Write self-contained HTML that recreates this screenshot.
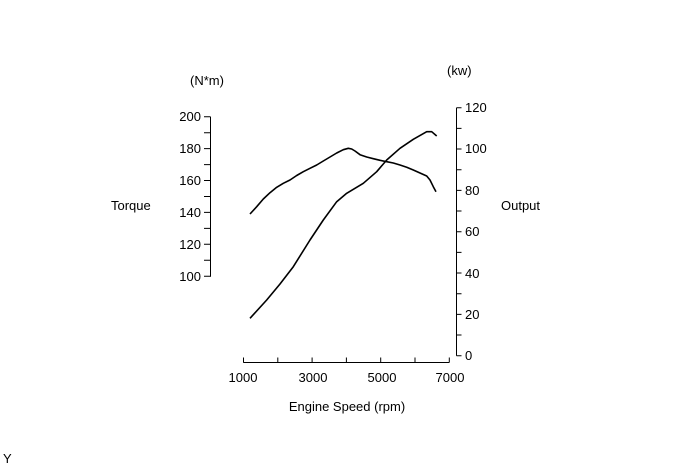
<!DOCTYPE html>
<html><head><style>
body{margin:0;background:#fff}
svg text{font-family:"Liberation Sans",sans-serif;font-size:13px;fill:#000}
</style></head><body>
<svg width="690" height="465" xmlns="http://www.w3.org/2000/svg">
<g stroke="#000" stroke-width="1" fill="none">
<path d="M210.5 116.7V276.7"/>
<path d="M204 116.7h6.5M204 132.7h6.5M204 148.6h6.5M204 164.6h6.5M204 180.5h6.5M204 196.5h6.5M204 212.4h6.5M204 228.4h6.5M204 244.3h6.5M204 260.3h6.5M204 276.2h6.5"/>
<path d="M456.5 107.7V355.7"/>
<path d="M456.5 107.7h5M456.5 128.4h5M456.5 149h5M456.5 169.7h5M456.5 190.4h5M456.5 211h5M456.5 231.7h5M456.5 252.4h5M456.5 273h5M456.5 293.7h5M456.5 314.4h5M456.5 335h5M456.5 355.7h5"/>
<path d="M243.3 362.5H449.3"/>
<path d="M243.5 362.5v-5M277.8 362.5v-5M312.1 362.5v-5M346.4 362.5v-5M380.7 362.5v-5M415 362.5v-5M449.3 362.5v-5"/>
<path stroke-width="1.6" stroke-linejoin="round" d="M250 214 L256.7 206.7 L263.3 199 L270 192.7 L276.7 187.3 L283.3 183.3 L290 180 L296.7 175.5 L303.3 171.7 L310 168.3 L316.7 165 L323.3 161 L330 157 L336.7 153 L343.3 149.7 L348.3 148.3 L351.7 149 L355 151 L360 154.7 L366.7 157 L373.3 158.7 L380 160.3 L386.7 161.7 L393.3 163 L400 165 L406.7 167.3 L413.3 170 L420 173 L426.7 176 L430 180 L433.3 186.7 L436 191.7"/>
<path stroke-width="1.6" stroke-linejoin="round" d="M250 318.3 L266.7 300 L280 284 L293.3 266.7 L310 240 L323.3 220 L336.7 201.7 L346.7 193.3 L363.3 183.3 L376.7 171.7 L386.7 160 L400 148.3 L413.3 139.3 L426.7 131.7 L431.7 131.7 L436.7 136"/>
</g>
<text x="190" y="85">(N*m)</text>
<text x="447" y="75">(kw)</text>
<g text-anchor="end">
<text x="201" y="121">200</text><text x="201" y="153">180</text><text x="201" y="185">160</text><text x="201" y="217">140</text><text x="201" y="249">120</text><text x="201" y="281">100</text>
</g>
<text x="465" y="112">120</text><text x="465" y="153">100</text><text x="465" y="195">80</text><text x="465" y="236">60</text><text x="465" y="278">40</text><text x="465" y="319">20</text><text x="465" y="360">0</text>
<g text-anchor="middle">
<text x="243" y="382">1000</text><text x="313" y="382">3000</text><text x="382" y="382">5000</text><text x="450" y="382">7000</text>
<text x="347" y="411">Engine Speed (rpm)</text>
</g>
<text x="111" y="210">Torque</text>
<text x="501" y="210">Output</text>
<text x="3" y="463">Y</text>
</svg>
</body></html>
